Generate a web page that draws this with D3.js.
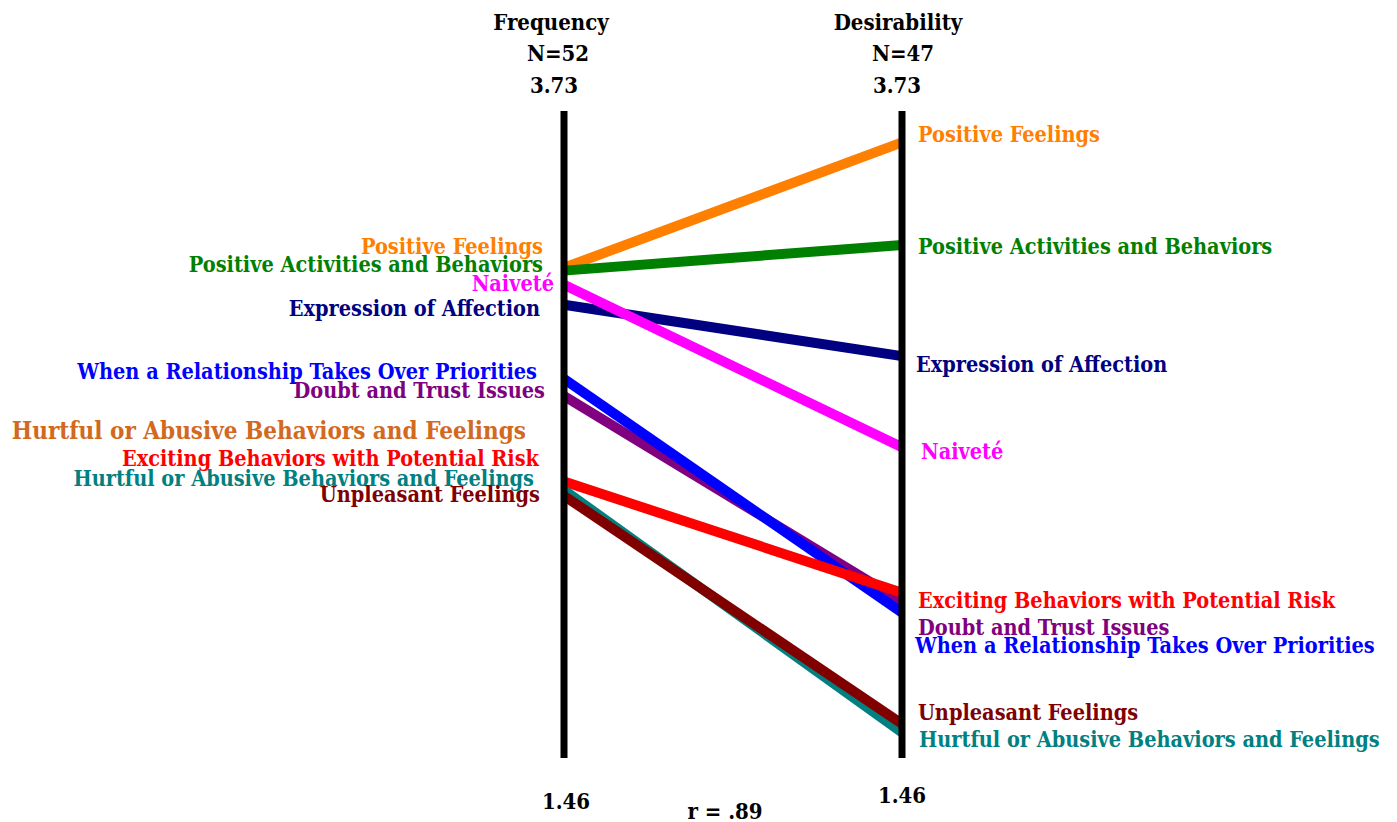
<!DOCTYPE html>
<html>
<head>
<meta charset="utf-8">
<script src="https://cdn.jsdelivr.net/npm/d3@7"></script>
<style>
  body { margin: 0; background: #fff; }
  text { font-family: "DejaVu Serif Condensed", "DejaVu Serif", serif; font-weight: bold; }
</style>
</head>
<body>
<div id="chart"></div>
<script>
// measures
var measures = ["Frequency", "Desirability"];
var sampleSizes = ["N=52", "N=47"];
var scaleMax = 3.73;
var scaleMin = 1.46;
var correlation = "r = .89";

// categories (drawing order) and colours
var categories = [
  "Positive Feelings",
  "Positive Activities and Behaviors",
  "Expression of Affection",
  "Naiveté",
  "Doubt and Trust Issues",
  "When a Relationship Takes Over Priorities",
  "Exciting Behaviors with Potential Risk",
  "Hurtful or Abusive Behaviors and Feelings",
  "Unpleasant Feelings"
];
var colors = ["#ff8000", "#008000", "#000080", "#ff00ff", "#800080", "#0000ff", "#ff0000", "#008080", "#800000"];

// mean ratings
var frequency    = [3.18, 3.17, 3.05, 3.12, 2.73, 2.79, 2.43, 2.40, 2.38];
var desirability = [3.62, 3.26, 2.87, 2.55, 2.01, 1.97, 2.04, 1.55, 1.58];

// stray label on the left
var extraLabel = "Hurtful or Abusive Behaviors and Feelings";
var extraLabelValue = 2.61;

// label nudges in px (layout only): [dx, dy]
var leftNudge  = [[-21, -21], [-21, -6], [-24, 4], [-10, -1], [-19, -6], [-27, -7], [-25, -23], [-30, -12], [-24, -1]];
var rightNudge = [[16, -8], [16, 2], [14, 8], [19, 4], [16, 26], [13, 33], [16, 8], [17, 7], [16, -11]];

let svg = d3.select('#chart').append('svg')
  .attr('width', 1397)
  .attr('height', 822);

let xScale = d3.scalePoint().domain(measures).range([564, 902]);
let yScale = d3.scaleLinear().domain([scaleMin, scaleMax]).range([758, 111]);

// slope lines
let rows = categories.map((c, i)=> ({name: c, color: colors[i], a: frequency[i], b: desirability[i], i: i}));

svg.append('g').attr('class', 'lines')
  .selectAll('line').data(rows).enter()
  .append('line')
  .attr('x1', xScale(measures[0]))
  .attr('x2', xScale(measures[1]))
  .attr('y1', (d)=> yScale(d.a))
  .attr('y2', (d)=> yScale(d.b))
  .attr('stroke', (d)=> d.color)
  .attr('stroke-width', 10);

// vertical axes
svg.append('g').attr('class', 'axes')
  .selectAll('line').data(measures).enter()
  .append('line')
  .attr('x1', (d)=> xScale(d))
  .attr('x2', (d)=> xScale(d))
  .attr('y1', yScale(scaleMax))
  .attr('y2', yScale(scaleMin))
  .attr('stroke', '#000')
  .attr('stroke-width', 7);

// left labels
svg.append('g').selectAll('text').data(rows).enter()
  .append('text')
  .attr('x', (d)=> xScale(measures[0]) + leftNudge[d.i][0])
  .attr('y', (d)=> yScale(d.a) + leftNudge[d.i][1])
  .attr('dy', '0.35em')
  .attr('text-anchor', 'end')
  .attr('font-size', 21.5)
  .attr('fill', (d)=> d.color)
  .text((d)=> d.name);

// right labels
svg.append('g').selectAll('text').data(rows).enter()
  .append('text')
  .attr('x', (d)=> xScale(measures[1]) + rightNudge[d.i][0])
  .attr('y', (d)=> yScale(d.b) + rightNudge[d.i][1])
  .attr('dy', '0.35em')
  .attr('text-anchor', 'start')
  .attr('font-size', 21.5)
  .attr('fill', (d)=> d.color)
  .text((d)=> d.name);

svg.append('text')
  .attr('x', 526)
  .attr('y', yScale(extraLabelValue))
  .attr('dy', '0.35em')
  .attr('text-anchor', 'end')
  .attr('font-size', 24)
  .attr('fill', '#d2691e')
  .text(extraLabel);

// headers
let head = svg.append('g').attr('class', 'header');
measures.forEach((m, i)=> {
  let cx = xScale(m);
  head.append('text').attr('x', cx - 13 + i * 9).attr('y', 30).attr('text-anchor', 'middle')
    .attr('font-size', 22).text(m);
  head.append('text').attr('x', cx - 6 + i * 7).attr('y', 61).attr('text-anchor', 'middle')
    .attr('font-size', 22).text(sampleSizes[i]);
  head.append('text').attr('x', cx - 10 + i * 5).attr('y', 93).attr('text-anchor', 'middle')
    .attr('font-size', 22).text(d3.format('.2f')(scaleMax));
  head.append('text').attr('x', cx + 2 - i * 2).attr('y', 809 - i * 6).attr('text-anchor', 'middle')
    .attr('font-size', 22).text(d3.format('.2f')(scaleMin));
});

svg.append('text')
  .attr('x', (xScale(measures[0]) + xScale(measures[1])) / 2 - 8)
  .attr('y', 819)
  .attr('text-anchor', 'middle')
  .attr('font-size', 22)
  .text(correlation);
</script>
</body>
</html>
